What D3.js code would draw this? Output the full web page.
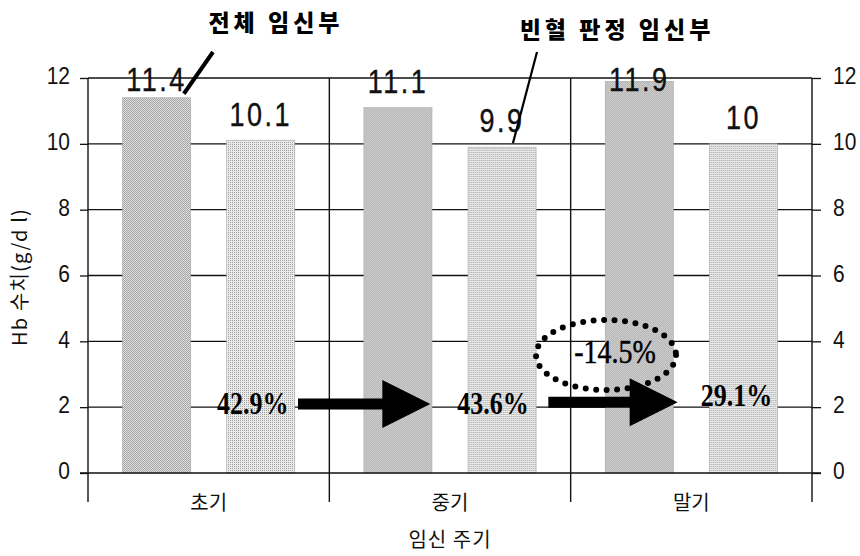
<!DOCTYPE html>
<html>
<head>
<meta charset="utf-8">
<script src="https://cdn.jsdelivr.net/npm/d3@7"></script>
<style>
  html, body { margin: 0; padding: 0; background: #fff; }
  svg { display: block; }
</style>
</head>
<body>
<svg id="chart" width="860" height="556"></svg>
<script>
// Hb levels by trimester
const categories = ["초기", "중기", "말기"];
const seriesNames = ["전체 임신부", "빈혈 판정 임신부"];
const allWomen = [11.4, 11.1, 11.9];
const anemicWomen = [10.1, 9.9, 10];
const anemiaRates = ["42.9%", "43.6%", "29.1%"];
const rateChange = "-14.5%";
const yTicks = [0, 2, 4, 6, 8, 10, 12];
const xTitle = "임신 주기";
const yTitle = "Hb 수치(g/d l)";

const svg = d3.select("#chart");
const plotLeft = 88, plotRight = 812, plotTop = 78, plotBottom = 473;

const x = d3.scaleBand().domain(categories).range([plotLeft, plotRight]).paddingInner(0).paddingOuter(0);
const xs = d3.scaleBand().domain([0, 1]).range([0, x.bandwidth()])
  .paddingInner(0.346).paddingOuter(0.332);
const y = d3.scaleLinear().domain([0, 12]).range([plotBottom, plotTop]);

// stippled fills for the bars
const defs = svg.append("defs");
function stipple(id, base, dot, dots) {
  const p = defs.append("pattern").attr("id", id).attr("patternUnits", "userSpaceOnUse")
    .attr("width", 2).attr("height", 2);
  p.append("rect").attr("width", 2).attr("height", 2).attr("fill", base);
  dots.forEach(([dx, dy]) => p.append("rect").attr("x", dx).attr("y", dy)
    .attr("width", 1).attr("height", 1).attr("fill", dot));
}
stipple("dark", "#dedede", "#a6a6a6", [[0, 0], [1, 1]]);
stipple("light", "#eaeaea", "#a0a0a0", [[0, 0]]);

// horizontal gridlines
svg.append("g").selectAll("line").data(yTicks.filter(d => d > 0)).join("line")
  .attr("x1", plotLeft).attr("x2", plotRight)
  .attr("y1", d => y(d)).attr("y2", d => y(d))
  .attr("stroke", "#111").attr("stroke-width", 1.3);

// bars
const rows = categories.map((c, i) => ({ c, vals: [allWomen[i], anemicWomen[i]] }));
const groups = svg.append("g").selectAll("g").data(rows).join("g")
  .attr("transform", d => `translate(${x(d.c)},0)`);
groups.selectAll("rect").data(d => d.vals.map((v, k) => ({ v, k }))).join("rect")
  .attr("x", d => xs(d.k)).attr("width", xs.bandwidth())
  .attr("y", d => y(d.v)).attr("height", d => y(0) - y(d.v))
  .attr("fill", d => d.k === 0 ? "url(#dark)" : "url(#light)")
  .attr("stroke", "#a8a8a8").attr("stroke-width", 0.6);

// value labels above the bars
groups.selectAll("text").data(d => d.vals.map((v, k) => ({ v, k }))).join("text")
  .attr("transform", d => `translate(${xs(d.k) + xs.bandwidth() / 2},${Math.max(y(d.v) - 15, 91)}) scale(1,1.22)`)
  .attr("text-anchor", "middle")
  .attr("font-family", "Liberation Sans, Arial, sans-serif")
  .attr("font-size", 27).attr("letter-spacing", 2.5)
  .attr("fill", "#111").attr("stroke", "#111").attr("stroke-width", 0.3)
  .text(d => d.v);

// vertical frame lines: axes and category dividers
const vlines = [plotLeft, ...categories.slice(1).map(c => x(c)), plotRight];
svg.append("g").selectAll("line").data(vlines).join("line")
  .attr("x1", d => d).attr("x2", d => d)
  .attr("y1", y(12)).attr("y2", 502)
  .attr("stroke", "#111").attr("stroke-width", 1.4);

// baseline
svg.append("line").attr("x1", plotLeft - 8).attr("x2", plotRight + 9)
  .attr("y1", y(0)).attr("y2", y(0)).attr("stroke", "#111").attr("stroke-width", 1.6);

// left and right axes
const leftAxis = d3.axisLeft(y).tickValues(yTicks).tickSize(8).tickPadding(10);
const rightAxis = d3.axisRight(y).tickValues(yTicks).tickSize(9).tickPadding(12);
[[leftAxis, plotLeft], [rightAxis, plotRight]].forEach(([ax, pos]) => {
  const g = svg.append("g").attr("transform", `translate(${pos},0)`).call(ax);
  g.select(".domain").remove();
  g.selectAll("line").attr("stroke", "#111").attr("stroke-width", 1.3);
  g.selectAll("text").attr("font-family", "Liberation Sans, Arial, sans-serif")
    .attr("font-size", 21).attr("fill", "#111")
    .attr("transform", "scale(1,1.1)").attr("dy", "0.25em");
});

// category labels and axis titles
svg.append("g").selectAll("text").data(categories).join("text")
  .attr("x", d => x(d) + x.bandwidth() / 2).attr("y", 510)
  .attr("text-anchor", "middle")
  .attr("font-family", "Noto Sans CJK KR, sans-serif").attr("font-size", 20)
  .attr("fill", "#111").text(d => d);

svg.append("text").attr("x", (plotLeft + plotRight) / 2).attr("y", 547)
  .attr("text-anchor", "middle")
  .attr("font-family", "Noto Sans CJK KR, sans-serif").attr("font-size", 20)
  .attr("letter-spacing", 1).attr("fill", "#111").text(xTitle);

svg.append("text").attr("transform", "translate(27,277) rotate(-90)")
  .attr("text-anchor", "middle")
  .attr("font-family", "Noto Sans CJK KR, Liberation Sans, sans-serif").attr("font-size", 20)
  .attr("letter-spacing", 1.2).attr("fill", "#111").text(yTitle);

// series callouts
const callouts = [
  { name: seriesNames[0], tx: 276, ty: 31, from: [213, 52], k: 0, g: 0, w: 4 },
  { name: seriesNames[1], tx: 617, ty: 38, from: [537, 52], k: 1, g: 1, w: 2.2 }
];
callouts.forEach(c => {
  const v = c.k === 0 ? allWomen[c.g] : anemicWomen[c.g];
  const bx = x(categories[c.g]) + xs(c.k) + xs.bandwidth() * (c.k === 0 ? 0.9 : 0.66);
  svg.append("line").attr("x1", c.from[0]).attr("y1", c.from[1])
    .attr("x2", bx).attr("y2", y(v) - 4)
    .attr("stroke", "#000").attr("stroke-width", c.w);
  svg.append("text").attr("x", c.tx).attr("y", c.ty).attr("text-anchor", "middle")
    .attr("font-family", "Noto Sans CJK KR, sans-serif").attr("font-weight", 900)
    .attr("font-size", 23).attr("letter-spacing", 4).attr("fill", "#000").text(c.name);
});

// anemia rate annotations
const rateY = [1.75, 1.75, 2.0];
const rateDx = [-8, -9, -7];
svg.append("g").selectAll("text").data(anemiaRates).join("text")
  .attr("transform", (d, i) => `translate(${x(categories[i]) + xs(1) + xs.bandwidth() / 2 + rateDx[i]},${y(rateY[i]) - 1}) scale(1,1.2)`)
  .attr("text-anchor", "middle")
  .attr("font-family", "Liberation Serif, Times New Roman, serif").attr("font-weight", "bold")
  .attr("font-size", 26).attr("fill", "#000").text(d => d);

// arrows between trimesters
const arrows = [
  { x0: x(categories[0]) + 210, x1: x(categories[1]) + 101, v: 2.1 },
  { x0: x(categories[1]) + 219, x1: x(categories[2]) + 107, v: 2.15 }
];
arrows.forEach(a => {
  const cy = y(a.v), hl = 48, hh = 24, sh = 5.5;
  const pts = [[a.x0, cy - sh], [a.x1 - hl, cy - sh], [a.x1 - hl, cy - hh], [a.x1, cy],
               [a.x1 - hl, cy + hh], [a.x1 - hl, cy + sh], [a.x0, cy + sh]];
  svg.append("path").attr("d", d3.line()(pts) + "Z").attr("fill", "#000");
});

// change in anemia rate, circled with a dotted ellipse
svg.append("ellipse").attr("cx", 606).attr("cy", 355).attr("rx", 70).attr("ry", 35)
  .attr("fill", "none").attr("stroke", "#000").attr("stroke-width", 6)
  .attr("stroke-linecap", "round").attr("stroke-dasharray", "0 10.5");
svg.append("text").attr("transform", `translate(615,${y(3.35)}) scale(1,1.2)`)
  .attr("text-anchor", "middle")
  .attr("font-family", "Liberation Serif, Times New Roman, serif")
  .attr("font-size", 28).attr("fill", "#000").attr("stroke", "#000").attr("stroke-width", 0.4)
  .text(rateChange);
</script>
</body>
</html>
